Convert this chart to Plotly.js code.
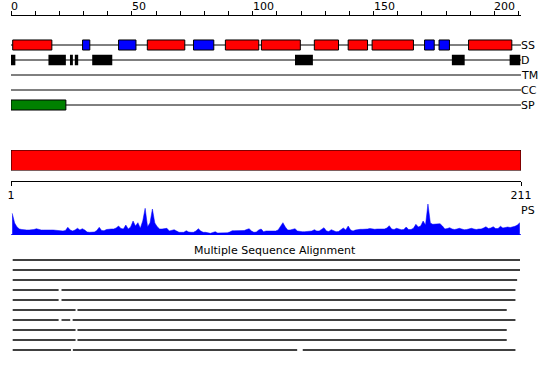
<!DOCTYPE html>
<html>
<head>
<meta charset="utf-8">
<script src="https://cdn.plot.ly/plotly-3.0.1.min.js"></script>
<style>html,body{margin:0;padding:0;background:#fff;}#chart{width:550px;height:380px;}</style>
</head>
<body>
<div id="chart"></div>
<script>
// ---------- data ----------
const seqStart = 1;
const seqEnd = 211;
const topTickStep = 10;
const topTickLabels = [0, 50, 100, 150, 200];
const trackNames = ['SS', 'D', 'TM', 'CC', 'SP'];

// secondary structure (H = helix red, E = strand blue)
const ssStart = [0.7, 29.6, 44.5, 56.4, 75.5, 88.7, 103.6, 125.5, 139.5, 149.4, 171.1, 177.1, 189.3];
const ssEnd   = [16.9, 32.6, 51.7, 71.9, 83.9, 102.5, 119.7, 135.5, 147.5, 166.5, 175.1, 181.4, 207.2];
const ssType  = ['H','E','E','H','E','H','H','H','H','H','E','E','H'];

// disorder
const dStart = [0, 15.5, 24.4, 26.4, 33.6, 117.5, 182.4, 206.3];
const dEnd   = [1.8, 22.7, 25.6, 27.8, 41.9, 124.9, 187.7, 210.7];

// signal peptide
const spStart = [0];
const spEnd = [22.7];

// domain bar
const domStart = [0];
const domEnd = [211];

// PS profile per residue (1..211)
const psValues = [
21.7,12,8,6,5.5,5,5,5,5,5.5, 6.3,5.5,5,5,5.2,5,5,5,4.8,4.5,
4,4,4.5,7.7,5,4,5,6.7,5,6.3, 5,3,2.7,2.7,3,4.5,7.7,4.5,4.3,5.5,
6,6,6,7,9,6.5,6,10,6,8, 14,9,12.3,6.7,14,26.7,8.3,12,26,12,
8.3,6,6,6,6.7,4,4.5,5.3,4,2.7, 2.7,2.7,4.3,3,2.7,2.7,4,6.3,4,2.7,
2.7,2.5,1.7,2.5,3.3,2,2,2,2,2.2, 3,4.3,4.3,4.3,4.3,4.3,4.5,5.5,6.3,4,
2.7,3,5,6,3.3,4,4,4,4,4, 5,9,12.3,8,5,5,5.5,6.3,4,3.3,
3.3,3.3,3.3,3.5,4,5.3,4,4,5.5,7.3, 4,3.5,5.3,4,3.3,3.5,5,7,5,9,
5,4,5,5.7,5.7,5.7,5.5,6,6.5,6, 5.7,6,6,6,6,7,9.3,6,5.5,6.7,
6,5.3,5.5,8,5.5,5.5,6.7,10.7,8,9, 14,10,31,12,10.7,10.7,11,11.3,9,6,
6.5,7.3,6,5.5,6,6.7,6,5.3,5.5,6, 6.7,6,5.5,6,6,7,8.3,6.5,7,8.3,
6.5,6.5,8.7,7,7.3,8,7.5,8,8.7,10, 12.3
];
const psResidues = psValues.map((v, i) => seqStart + i);

// multiple sequence alignment rows: start, end and gaps [from,to]
const alnStart = [0.7, 0.7, 0.7, 0.7, 0.7, 0.7, 0.7, 0.7, 0.7, 0.7];
const alnEnd   = [210.6, 210.6, 209.4, 208.7, 208.7, 205.1, 208.7, 205.1, 205.1, 208.7];
const alnGaps  = [
  [], [], [],
  [[19.7, 20.9]],
  [[19.7, 20.9]],
  [[26.7, 27.5]],
  [[19.7, 20.9], [24.5, 25.5]],
  [[26.7, 27.5]],
  [[26.7, 27.5]],
  [[24.8, 25.6], [118.4, 120.7]]
];

// ---------- layout helpers ----------
const H = 380;
const py = px => 1 - px / H;   // pixel row -> paper fraction
const FONT = 'DejaVu Sans, sans-serif';
const ssColor = {H: '#ff0000', E: '#0000ff'};

const traces = [];

// tracks
traces.push({
  type: 'bar', orientation: 'h', xaxis: 'x', yaxis: 'y',
  y: ssStart.map(() => 0), base: ssStart, x: ssEnd.map((e, i) => e - ssStart[i]),
  width: 0.67,
  marker: {color: ssType.map(t => ssColor[t]), line: {color: '#000', width: 1}},
  hoverinfo: 'skip', showlegend: false
});
traces.push({
  type: 'bar', orientation: 'h', xaxis: 'x', yaxis: 'y',
  y: dStart.map(() => 1), base: dStart, x: dEnd.map((e, i) => e - dStart[i]),
  width: 0.7,
  marker: {color: '#000000', line: {color: '#000', width: 0}},
  hoverinfo: 'skip', showlegend: false
});
traces.push({
  type: 'bar', orientation: 'h', xaxis: 'x', yaxis: 'y',
  y: spStart.map(() => 4), base: spStart, x: spEnd.map((e, i) => e - spStart[i]),
  width: 0.67,
  marker: {color: '#008000', line: {color: '#000', width: 1}},
  hoverinfo: 'skip', showlegend: false
});

// domain bar
traces.push({
  type: 'bar', orientation: 'h', xaxis: 'x2', yaxis: 'y2',
  y: domStart.map(() => 0), base: domStart, x: domEnd.map((e, i) => e - domStart[i]),
  width: 1,
  marker: {color: '#ff0000', line: {color: '#000', width: 1}},
  hoverinfo: 'skip', showlegend: false
});

// PS profile
traces.push({
  type: 'scatter', mode: 'lines', xaxis: 'x', yaxis: 'y3',
  x: psResidues.map(r => r - 0.5), y: psValues,
  fill: 'tozeroy', fillcolor: '#0000ff',
  line: {color: '#0000ff', width: 0.5},
  hoverinfo: 'skip', showlegend: false
});

// alignment rows
alnStart.forEach((s, i) => {
  const xs = [s];
  alnGaps[i].forEach(g => { xs.push(g[0], null, g[1]); });
  xs.push(alnEnd[i]);
  traces.push({
    type: 'scatter', mode: 'lines', xaxis: 'x', yaxis: 'y4',
    x: xs, y: xs.map(v => v === null ? null : i),
    connectgaps: false,
    line: {color: '#000', width: 1.4},
    hoverinfo: 'skip', showlegend: false
  });
});

// shapes: track centre lines, PS baseline
const shapes = trackNames.map((n, i) => ({
  type: 'line', xref: 'x', yref: 'y', x0: seqStart - 1, x1: seqEnd, y0: i, y1: i,
  line: {color: '#000', width: 1}, layer: 'below'
}));
shapes.push({
  type: 'line', xref: 'x', yref: 'y3', x0: seqStart - 1, x1: seqEnd + 5, y0: 0, y1: 0,
  line: {color: '#0000ff', width: 1.5}, layer: 'above'
});

// annotations
const annotations = [];
topTickLabels.forEach(v => annotations.push({
  xref: 'x', yref: 'paper', x: v, y: py(6), xanchor: 'left', yanchor: 'middle',
  text: String(v), showarrow: false, xshift: -2,
  font: {family: FONT, size: 11, color: '#000'}
}));
trackNames.forEach((n, i) => annotations.push({
  xref: 'x', yref: 'y', x: seqEnd, y: i, xanchor: 'left', yanchor: 'middle',
  text: n, showarrow: false, xshift: -2,
  font: {family: FONT, size: 11, color: '#000'}
}));
annotations.push({
  xref: 'x', yref: 'paper', x: seqEnd, y: py(211), xanchor: 'left', yanchor: 'middle',
  text: 'PS', showarrow: false, xshift: -2,
  font: {family: FONT, size: 11, color: '#000'}
});
annotations.push({
  xref: 'paper', yref: 'paper', x: (275 - 11) / 510, y: py(250), xanchor: 'center', yanchor: 'middle',
  text: 'Multiple Sequence Alignment', showarrow: false,
  font: {family: FONT, size: 11, color: '#000'}
});

const topTicks = [];
for (let v = 0; v <= seqEnd; v += topTickStep) topTicks.push(v);

const hidden = {visible: false, fixedrange: true};

const layout = {
  width: 550, height: 380,
  margin: {l: 11, r: 29, t: 0, b: 0, pad: 0},
  paper_bgcolor: '#fff', plot_bgcolor: 'rgba(0,0,0,0)',
  barmode: 'overlay',
  showlegend: false,
  font: {family: FONT, size: 11, color: '#000'},
  xaxis: {
    domain: [0, 1], range: [seqStart - 1, seqEnd], side: 'top', anchor: 'free', position: py(15),
    showline: true, linecolor: '#000', linewidth: 1,
    ticks: 'outside', ticklen: 4, tickwidth: 1, tickcolor: '#000',
    tickmode: 'array', tickvals: topTicks, showticklabels: false,
    showgrid: false, zeroline: false, fixedrange: true
  },
  xaxis2: {
    domain: [0, 1], range: [seqStart - 1, seqEnd], side: 'bottom', anchor: 'free', position: py(181),
    showline: true, linecolor: '#000', linewidth: 1,
    ticks: 'outside', ticklen: 4, tickwidth: 1, tickcolor: '#000',
    tickmode: 'array', tickvals: [seqStart - 1, seqEnd], ticktext: [String(seqStart), String(seqEnd)],
    tickfont: {family: FONT, size: 11, color: '#000'},
    showgrid: false, zeroline: false, fixedrange: true
  },
  yaxis: Object.assign({domain: [py(112.5), py(37.5)], range: [4.5, -0.5], anchor: 'x'}, hidden),
  yaxis2: Object.assign({domain: [py(170.5), py(150)], range: [-0.5, 0.5], anchor: 'x2'}, hidden),
  yaxis3: Object.assign({domain: [py(235), py(204)], range: [0, 31], anchor: 'x'}, hidden),
  yaxis4: Object.assign({domain: [py(355), py(255)], range: [9.5, -0.5], anchor: 'x'}, hidden),
  shapes: shapes,
  annotations: annotations
};

Plotly.newPlot('chart', traces, layout, {displayModeBar: false, staticPlot: true});
</script>
</body>
</html>
